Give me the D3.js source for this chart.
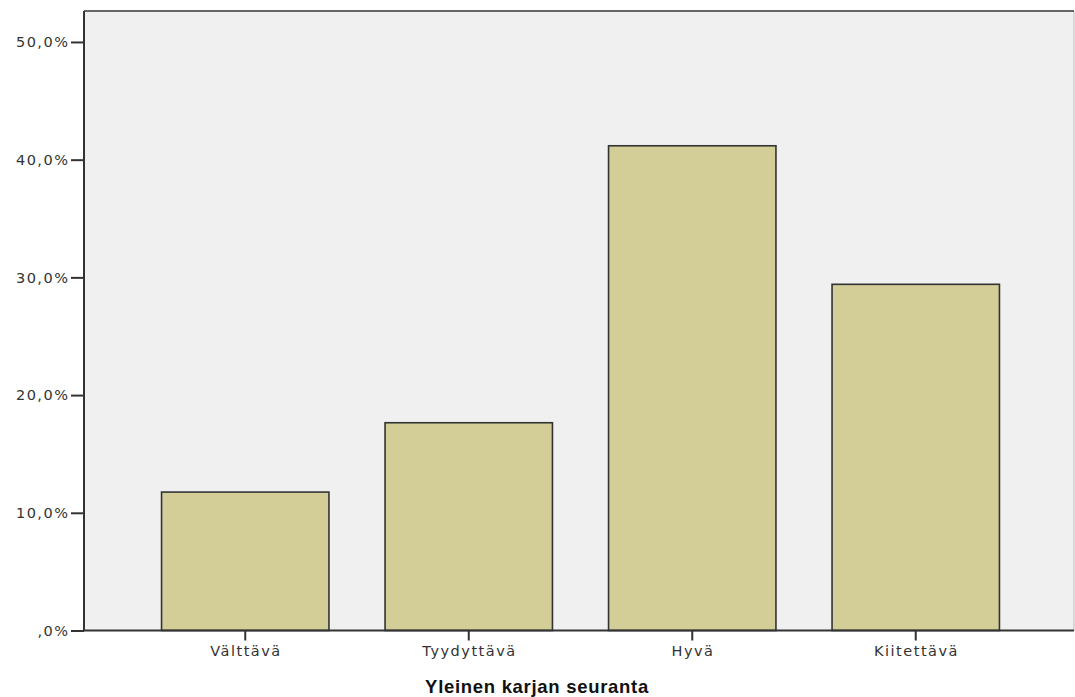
<!DOCTYPE html>
<html>
<head>
<meta charset="utf-8">
<script src="https://cdn.jsdelivr.net/npm/d3@7/dist/d3.min.js"></script>
<style>
  html, body { margin: 0; padding: 0; background: #ffffff; }
  svg { display: block; }
  text { font-family: "Liberation Sans", Arial, sans-serif; }
</style>
</head>
<body>
<svg id="chart" width="1075" height="697"></svg>
<script>
const categories = ["Välttävä", "Tyydyttävä", "Hyvä", "Kiitettävä"];
const percentValues = [11.76, 17.65, 41.18, 29.41];
const yTickValues = [0, 10, 20, 30, 40, 50];
const yTickLabels = [",0%", "10,0%", "20,0%", "30,0%", "40,0%", "50,0%"];
const xAxisTitle = "Yleinen karjan seuranta";

const svg = d3.select("#chart");
const plot = { left: 84, right: 1074, top: 11, bottom: 630.5 };
const tickFont = "'DejaVu Sans', Verdana, sans-serif";
const titleFont = "'Liberation Sans', Arial, sans-serif";

const x = d3.scaleBand()
  .domain(categories)
  .range([plot.left, plot.right + 3])
  .paddingInner(0.251)
  .paddingOuter(0.347);

const y = d3.scaleLinear()
  .domain([0, 52.63])
  .range([plot.bottom, plot.top]);

// plot background
svg.append("rect")
  .attr("x", plot.left).attr("y", plot.top)
  .attr("width", plot.right - plot.left).attr("height", plot.bottom - plot.top)
  .attr("fill", "#f0f0f0");

// right border (light)
svg.append("line")
  .attr("x1", plot.right).attr("x2", plot.right)
  .attr("y1", plot.top).attr("y2", plot.bottom)
  .attr("stroke", "#b8b8b8").attr("stroke-width", 1);

// top border
svg.append("line")
  .attr("x1", plot.left).attr("x2", plot.right)
  .attr("y1", plot.top).attr("y2", plot.top)
  .attr("stroke", "#666").attr("stroke-width", 2);

// bars
svg.append("g").selectAll("rect")
  .data(categories)
  .join("rect")
  .attr("x", d => x(d))
  .attr("y", (d, i) => y(percentValues[i]))
  .attr("width", x.bandwidth())
  .attr("height", (d, i) => y(0) - y(percentValues[i]))
  .attr("fill", "#d3ce97")
  .attr("stroke", "#333")
  .attr("stroke-width", 1.6);

// y axis
const yAxis = d3.axisLeft(y)
  .tickValues(yTickValues)
  .tickFormat((d, i) => yTickLabels[i])
  .tickSize(13)
  .tickPadding(1.5);
const gy = svg.append("g")
  .attr("transform", `translate(${plot.left},0)`)
  .call(yAxis);
gy.select(".domain").attr("stroke", "#333").attr("stroke-width", 2)
  .attr("d", `M0,${plot.top}V${plot.bottom}`);
gy.selectAll(".tick line").attr("stroke", "#333").attr("stroke-width", 2);
gy.selectAll(".tick text")
  .style("font-family", tickFont)
  .style("letter-spacing", "1.5px")
  .attr("font-size", 14.5).attr("fill", "#333");

// x axis
const xAxis = d3.axisBottom(x).tickSize(10).tickPadding(5);
const gx = svg.append("g")
  .attr("transform", `translate(0,${plot.bottom})`)
  .call(xAxis);
gx.select(".domain").attr("stroke", "#333").attr("stroke-width", 2)
  .attr("d", `M${plot.left},0H${plot.right}`);
gx.selectAll(".tick line").attr("stroke", "#333").attr("stroke-width", 2);
gx.selectAll(".tick text")
  .style("font-family", tickFont)
  .style("letter-spacing", "1.5px")
  .attr("dx", "0.75px")
  .attr("font-size", 14.5).attr("fill", "#333");

// x axis title
svg.append("text")
  .attr("x", 537).attr("y", 693)
  .attr("text-anchor", "middle")
  .style("font-family", titleFont)
  .style("letter-spacing", "0.7px")
  .attr("font-size", 18.5).attr("font-weight", "bold")
  .attr("fill", "#111")
  .text(xAxisTitle);
</script>
</body>
</html>
